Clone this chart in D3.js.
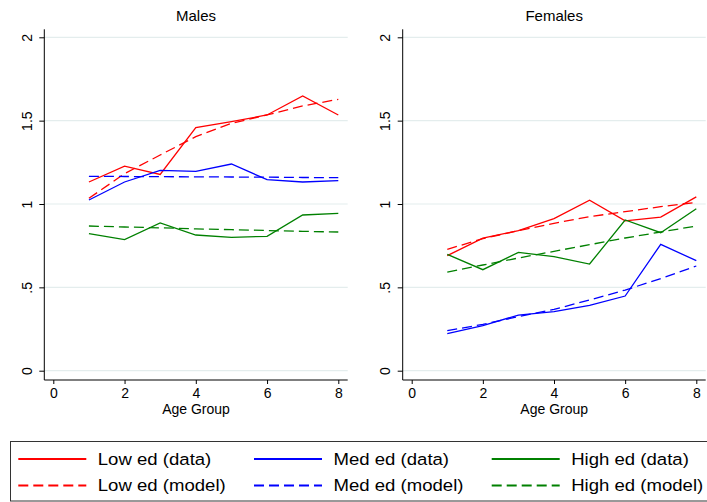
<!DOCTYPE html>
<html>
<head>
<meta charset="utf-8">
<script src="https://d3js.org/d3.v7.min.js"></script>
<style>
  body { margin: 0; background: #fff; }
  svg { display: block; font-family: "Liberation Sans", Arial, sans-serif; }
</style>
</head>
<body>
<div id="chart"></div>
<script>
// chart data
var ageGroups = [1, 2, 3, 4, 5, 6, 7, 8];
var xTicks = [0, 2, 4, 6, 8];
var yTicks = [0, 0.5, 1, 1.5, 2];
var yTickLabels = ["0", ".5", "1", "1.5", "2"];
var panelTitles = ["Males", "Females"];
var xTitle = "Age Group";

var maleLowData = [1.132, 1.227, 1.177, 1.458, 1.494, 1.534, 1.648, 1.534];
var maleLowModel = [1.034, 1.182, 1.294, 1.404, 1.484, 1.534, 1.588, 1.628];
var maleMedData = [1.024, 1.132, 1.202, 1.196, 1.240, 1.146, 1.132, 1.140];
var maleMedModel = [1.166, 1.165, 1.164, 1.163, 1.162, 1.161, 1.159, 1.158];
var maleHighData = [0.822, 0.786, 0.886, 0.814, 0.800, 0.806, 0.934, 0.944];
var maleHighModel = [0.868, 0.862, 0.857, 0.851, 0.846, 0.841, 0.836, 0.832];

var femaleLowData = [0.690, 0.795, 0.840, 0.912, 1.023, 0.899, 0.921, 1.043];
var femaleLowModel = [0.728, 0.792, 0.840, 0.884, 0.924, 0.954, 0.984, 1.010];
var femaleMedData = [0.222, 0.270, 0.334, 0.354, 0.392, 0.448, 0.758, 0.660];
var femaleMedModel = [0.240, 0.278, 0.324, 0.368, 0.424, 0.484, 0.552, 0.628];
var femaleHighData = [0.698, 0.606, 0.710, 0.684, 0.640, 0.904, 0.828, 0.972];
var femaleHighModel = [0.592, 0.634, 0.676, 0.716, 0.756, 0.796, 0.832, 0.868];

var seriesNames = ["Low ed (data)", "Low ed (model)", "Med ed (data)", "Med ed (model)", "High ed (data)", "High ed (model)"];
var seriesColors = ["#ff0000", "#ff0000", "#0000ff", "#0000ff", "#008000", "#008000"];
var seriesDashed = [false, true, false, true, false, true];

var panelSeries = [
  [maleLowData, maleLowModel, maleMedData, maleMedModel, maleHighData, maleHighModel],
  [femaleLowData, femaleLowModel, femaleMedData, femaleMedModel, femaleHighData, femaleHighModel]
];

var width = 707, height = 502;
var svg = d3.select("#chart").append("svg")
  .attr("width", width)
  .attr("height", height);

// panel frames: axis x, right edge, position of 0 and 8 on x
var panels = [
  { left: 44.3, right: 347.7, x0: 53.3, x8: 338.3 },
  { left: 402.7, right: 705.7, x0: 411.7, x8: 696.3 }
];
var plotTop = 29.3, plotBottom = 380;

var y = d3.scaleLinear().domain([0, 2]).range([370.7, 37.3]);

panels.forEach(function(p, pi) {
  var x = d3.scaleLinear().domain([0, 8]).range([p.x0, p.x8]);
  var g = svg.append("g");

  // grid lines
  g.selectAll("line.grid")
    .data(yTicks)
    .enter()
    .append("line")
    .attr("class", "grid")
    .attr("x1", p.left)
    .attr("x2", p.right)
    .attr("y1", function(d) { return y(d); })
    .attr("y2", function(d) { return y(d); })
    .attr("stroke", "#e4eded")
    .attr("stroke-width", 1.2);

  // series lines
  var line = d3.line()
    .x(function(d, i) { return x(ageGroups[i]); })
    .y(function(d) { return y(d); });

  panelSeries[pi].forEach(function(vals, si) {
    g.append("path")
      .datum(vals)
      .attr("d", line)
      .attr("fill", "none")
      .attr("stroke", seriesColors[si])
      .attr("stroke-width", 1.3)
      .attr("stroke-dasharray", seriesDashed[si] ? "10,5" : null);
  });

  // y axis
  var yAxis = d3.axisLeft(y)
    .tickValues(yTicks)
    .tickFormat(function(d, i) { return yTickLabels[i]; })
    .tickSize(5)
    .tickSizeOuter(0);
  var ya = g.append("g")
    .attr("transform", "translate(" + p.left + ",0)")
    .call(yAxis);
  ya.select(".domain").remove();
  ya.append("line")
    .attr("x1", 0).attr("x2", 0)
    .attr("y1", plotTop).attr("y2", plotBottom)
    .attr("stroke", "#000");
  ya.selectAll(".tick line").attr("stroke", "#000");
  ya.selectAll(".tick text")
    .attr("x", null)
    .attr("dy", "0.36em")
    .attr("transform", "translate(-17.6,0) rotate(-90)")
    .attr("text-anchor", "middle")
    .attr("fill", "#000")
    .style("font-size", "14px")
    .style("font-family", "'Liberation Sans', Arial, sans-serif");

  // x axis
  var xAxis = d3.axisBottom(x)
    .tickValues(xTicks)
    .tickFormat(d3.format("d"))
    .tickSize(4)
    .tickPadding(4)
    .tickSizeOuter(0);
  var xa = g.append("g")
    .attr("transform", "translate(0," + plotBottom + ")")
    .call(xAxis);
  xa.select(".domain").remove();
  xa.append("line")
    .attr("x1", p.left).attr("x2", p.right)
    .attr("y1", 0).attr("y2", 0)
    .attr("stroke", "#000");
  xa.selectAll(".tick line").attr("stroke", "#000");
  xa.selectAll(".tick text")
    .attr("fill", "#000")
    .style("font-size", "14px")
    .style("font-family", "'Liberation Sans', Arial, sans-serif");

  // titles
  var cx = (p.left + p.right) / 2;
  g.append("text")
    .attr("x", cx)
    .attr("y", 20.7)
    .attr("text-anchor", "middle")
    .style("font-size", "15px")
    .text(panelTitles[pi]);
  g.append("text")
    .attr("x", cx)
    .attr("y", 414)
    .attr("text-anchor", "middle")
    .style("font-size", "14px")
    .text(xTitle);
});

// legend
svg.append("rect")
  .attr("x", 10.5)
  .attr("y", 441.5)
  .attr("width", 700)
  .attr("height", 59.5)
  .attr("fill", "none")
  .attr("stroke", "#333")
  .attr("stroke-width", 1);

var legendCols = [18.3, 254, 491.7];
var legendRows = [459, 485.5];

var legendItems = seriesNames.map(function(name, i) {
  return { name: name, color: seriesColors[i], dashed: seriesDashed[i],
           col: Math.floor(i / 2), row: i % 2 };
});

var leg = svg.selectAll("g.legend")
  .data(legendItems)
  .enter()
  .append("g")
  .attr("class", "legend")
  .attr("transform", function(d) {
    return "translate(" + legendCols[d.col] + "," + legendRows[d.row] + ")";
  });

leg.append("line")
  .attr("x1", 0)
  .attr("x2", 68)
  .attr("y1", 0)
  .attr("y2", 0)
  .attr("stroke", function(d) { return d.color; })
  .attr("stroke-width", 1.8)
  .attr("stroke-dasharray", function(d) { return d.dashed ? "10,5" : null; });

leg.append("text")
  .attr("x", 79.5)
  .attr("dy", "0.36em")
  .style("font-size", "16.3px")
  .text(function(d) { return d.name; })
  .each(function() {
    var w = this.getComputedTextLength();
    d3.select(this)
      .attr("textLength", w * 1.14)
      .attr("lengthAdjust", "spacingAndGlyphs");
  });
</script>
</body>
</html>
